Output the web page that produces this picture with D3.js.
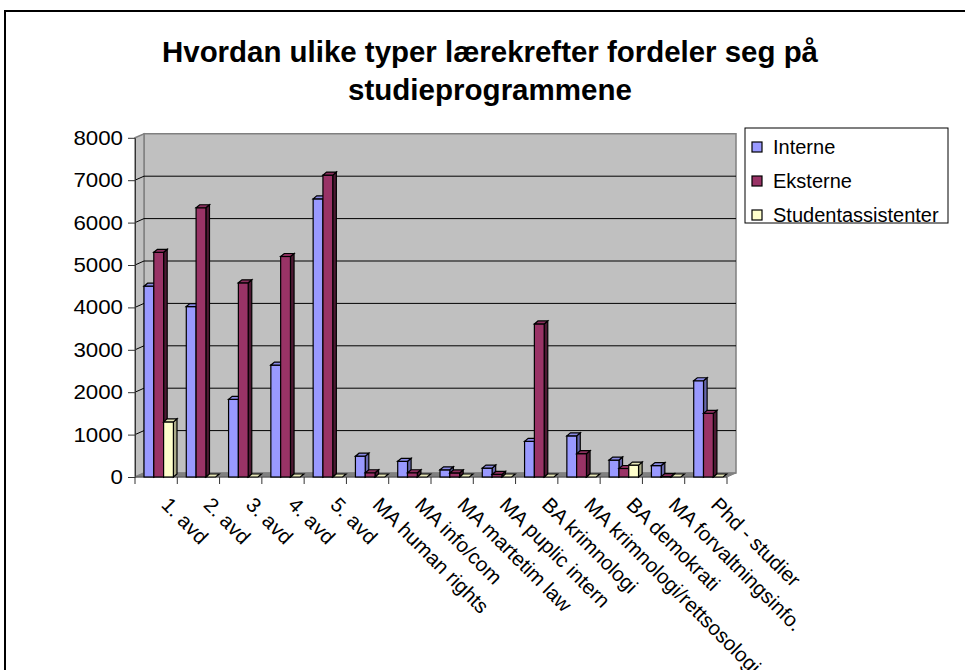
<!DOCTYPE html>
<html>
<head>
<meta charset="utf-8">
<script src="https://cdn.jsdelivr.net/npm/d3@7"></script>
<style>
  body { margin: 0; background: #fff; }
  svg { display: block; }
  text { font-family: "Liberation Sans", Arial, sans-serif; }
</style>
</head>
<body>
<div id="chart"></div>
<script>
// data
var categories = ["1. avd", "2. avd", "3. avd", "4. avd", "5. avd", "MA human rights", "MA info/com",
  "MA martetim law", "MA puplic intern", "BA krimnologi", "MA krimnologi/rettsosologi",
  "BA demokrati", "MA forvaltningsinfo.", "Phd - studier"];
var seriesNames = ["Interne", "Eksterne", "Studentassistenter"];
var interne = [4500, 4020, 1830, 2640, 6560, 490, 370, 170, 210, 840, 970, 400, 270, 2270];
var eksterne = [5300, 6350, 4580, 5200, 7120, 100, 100, 95, 60, 3610, 550, 200, 10, 1500];
var studentass = [1300, 0, 0, 0, 0, 0, 0, 0, 0, 0, 0, 280, 0, 0];
var yTicks = [0, 1000, 2000, 3000, 4000, 5000, 6000, 7000, 8000];
var titleLines = ["Hvordan ulike typer lærekrefter fordeler seg på", "studieprogrammene"];

var colors = ["#9999FF", "#993366", "#FFFFCC"];
var values = [interne, eksterne, studentass];

var W = 965, H = 670;
var svg = d3.select("#chart").append("svg")
    .attr("width", W)
    .attr("height", H);

// chart area frame (clipped by the page on right and bottom)
svg.append("path")
  .attr("d", "M5,670 L5,11 L965,11")
  .attr("fill", "none")
  .attr("stroke", "#000")
  .attr("stroke-width", 2);

// title
svg.selectAll(".title").data(titleLines).enter().append("text")
  .attr("x", 490)
  .attr("y", function(d, i) { return 62 + i * 38; })
  .attr("text-anchor", "middle")
  .attr("font-size", 30)
  .attr("font-weight", "bold")
  .attr("textLength", function(d, i) { return i == 0 ? 656 : 284; })
  .attr("lengthAdjust", "spacingAndGlyphs")
  .text(function(d) { return d; });

// scales
var x0 = 135, x1 = 727;
var y = d3.scaleLinear().domain([0, 8000]).range([477, 137.8]);
var x = d3.scaleBand().domain(categories).range([x0, x1]);
var xs = d3.scaleBand().domain(seriesNames).range([9, 9 + 29.4]);

// 3d offsets: walls and bars
var wdx = 9, wdy = -4;
var bdx = 3.6, bdy = -3;

function poly(pts) { return "M" + pts.map(function(p) { return p.join(","); }).join("L") + "Z"; }

// back wall
svg.append("path")
  .attr("d", poly([[x0 + wdx, y(8000) + wdy], [x1 + wdx, y(8000) + wdy], [x1 + wdx, y(0) + wdy], [x0 + wdx, y(0) + wdy]]))
  .attr("fill", "#C0C0C0")
  .attr("stroke", "#808080")
  .attr("stroke-width", 1.5);
// side wall
svg.append("path")
  .attr("d", poly([[x0, y(8000)], [x0 + wdx, y(8000) + wdy], [x0 + wdx, y(0) + wdy], [x0, y(0)]]))
  .attr("fill", "#C0C0C0")
  .attr("stroke", "#808080")
  .attr("stroke-width", 1.5);
// floor
svg.append("path")
  .attr("d", poly([[x0, y(0)], [x0 + wdx, y(0) + wdy], [x1 + wdx, y(0) + wdy], [x1, y(0)]]))
  .attr("fill", "#808080")
  .attr("stroke", "#808080")
  .attr("stroke-width", 1);

// gridlines on back and side wall
var grid = yTicks.filter(function(v) { return v > 0 && v < 8000; });
svg.selectAll(".grid").data(grid).enter().append("path")
  .attr("d", function(v) { return "M" + x0 + "," + y(v) + "L" + (x0 + wdx) + "," + (y(v) + wdy) + "L" + (x1 + wdx) + "," + (y(v) + wdy); })
  .attr("fill", "none")
  .attr("stroke", "#000")
  .attr("stroke-width", 1);

// y axis
var yAxis = svg.append("g")
  .attr("transform", "translate(" + x0 + ",0)")
  .call(d3.axisLeft(y).tickValues(yTicks).tickSize(7).tickPadding(5).tickSizeOuter(0).tickFormat(d3.format("d")));
yAxis.select(".domain").attr("stroke", "#333");
yAxis.selectAll(".tick line").attr("stroke", "#333");
yAxis.selectAll(".tick text")
  .attr("font-size", 20)
  .attr("fill", "#000")
  .attr("textLength", function(d) { return String(d).length * 12.4; })
  .attr("lengthAdjust", "spacingAndGlyphs");

// x axis ticks on band edges
var edges = categories.map(function(c) { return x(c); }).concat([x1]);
svg.append("line")
  .attr("x1", x0).attr("x2", x1)
  .attr("y1", y(0)).attr("y2", y(0))
  .attr("stroke", "#555");
svg.selectAll(".xtick").data(edges).enter().append("line")
  .attr("x1", function(d) { return d; }).attr("x2", function(d) { return d; })
  .attr("y1", y(0)).attr("y2", y(0) + 7)
  .attr("stroke", "#333");

// bars
var bars = [];
categories.forEach(function(c, i) {
  seriesNames.forEach(function(s, j) {
    bars.push({ cat: c, series: s, j: j, v: values[j][i] });
  });
});

var g = svg.append("g");
bars.forEach(function(b) {
  var bx = x(b.cat) + xs(b.series), bw = xs.bandwidth();
  var top = y(b.v), base = y(0);
  var col = d3.color(colors[b.j]);
  var sideCol = b.j == 1 ? "#4d1933" : col.darker(1.1);
  var topCol = col.darker(0.3);
  if (b.v > 0) {
    g.append("path")
      .attr("d", poly([[bx + bw, base], [bx + bw + bdx, base + bdy], [bx + bw + bdx, top + bdy], [bx + bw, top]]))
      .attr("fill", sideCol).attr("stroke", "#000").attr("stroke-width", 1.2);
    g.append("rect")
      .attr("x", bx).attr("y", top)
      .attr("width", bw).attr("height", base - top)
      .attr("fill", colors[b.j]).attr("stroke", "#000").attr("stroke-width", 1.2);
  }
  g.append("path")
    .attr("d", poly([[bx, top], [bx + bdx, top + bdy], [bx + bw + bdx, top + bdy], [bx + bw, top]]))
    .attr("fill", b.v > 0 ? topCol : "#E6E6B8").attr("stroke", "#000").attr("stroke-width", 1.2);
});

// category labels, rotated
svg.selectAll(".xlab").data(categories).enter().append("text")
  .attr("transform", function(d) { return "translate(" + (x(d) + x.bandwidth() / 2 + 4) + ",506) rotate(45)"; })
  .attr("font-size", 20.5)
  .attr("fill", "#000")
  .text(function(d) { return d; });

// legend
var lg = svg.append("g").attr("transform", "translate(745,128)");
lg.append("rect")
  .attr("width", 203).attr("height", 95)
  .attr("fill", "#fff").attr("stroke", "#000").attr("stroke-width", 1);
var items = lg.selectAll(".item").data(seriesNames).enter().append("g")
  .attr("transform", function(d, i) { return "translate(0," + (19 + i * 34) + ")"; });
items.append("rect")
  .attr("x", 7).attr("y", -5).attr("width", 10).attr("height", 10)
  .attr("fill", function(d, i) { return colors[i]; })
  .attr("stroke", "#000").attr("stroke-width", 1.2);
items.append("text")
  .attr("x", 28).attr("y", 7)
  .attr("font-size", 20)
  .text(function(d) { return d; });
</script>
</body>
</html>
